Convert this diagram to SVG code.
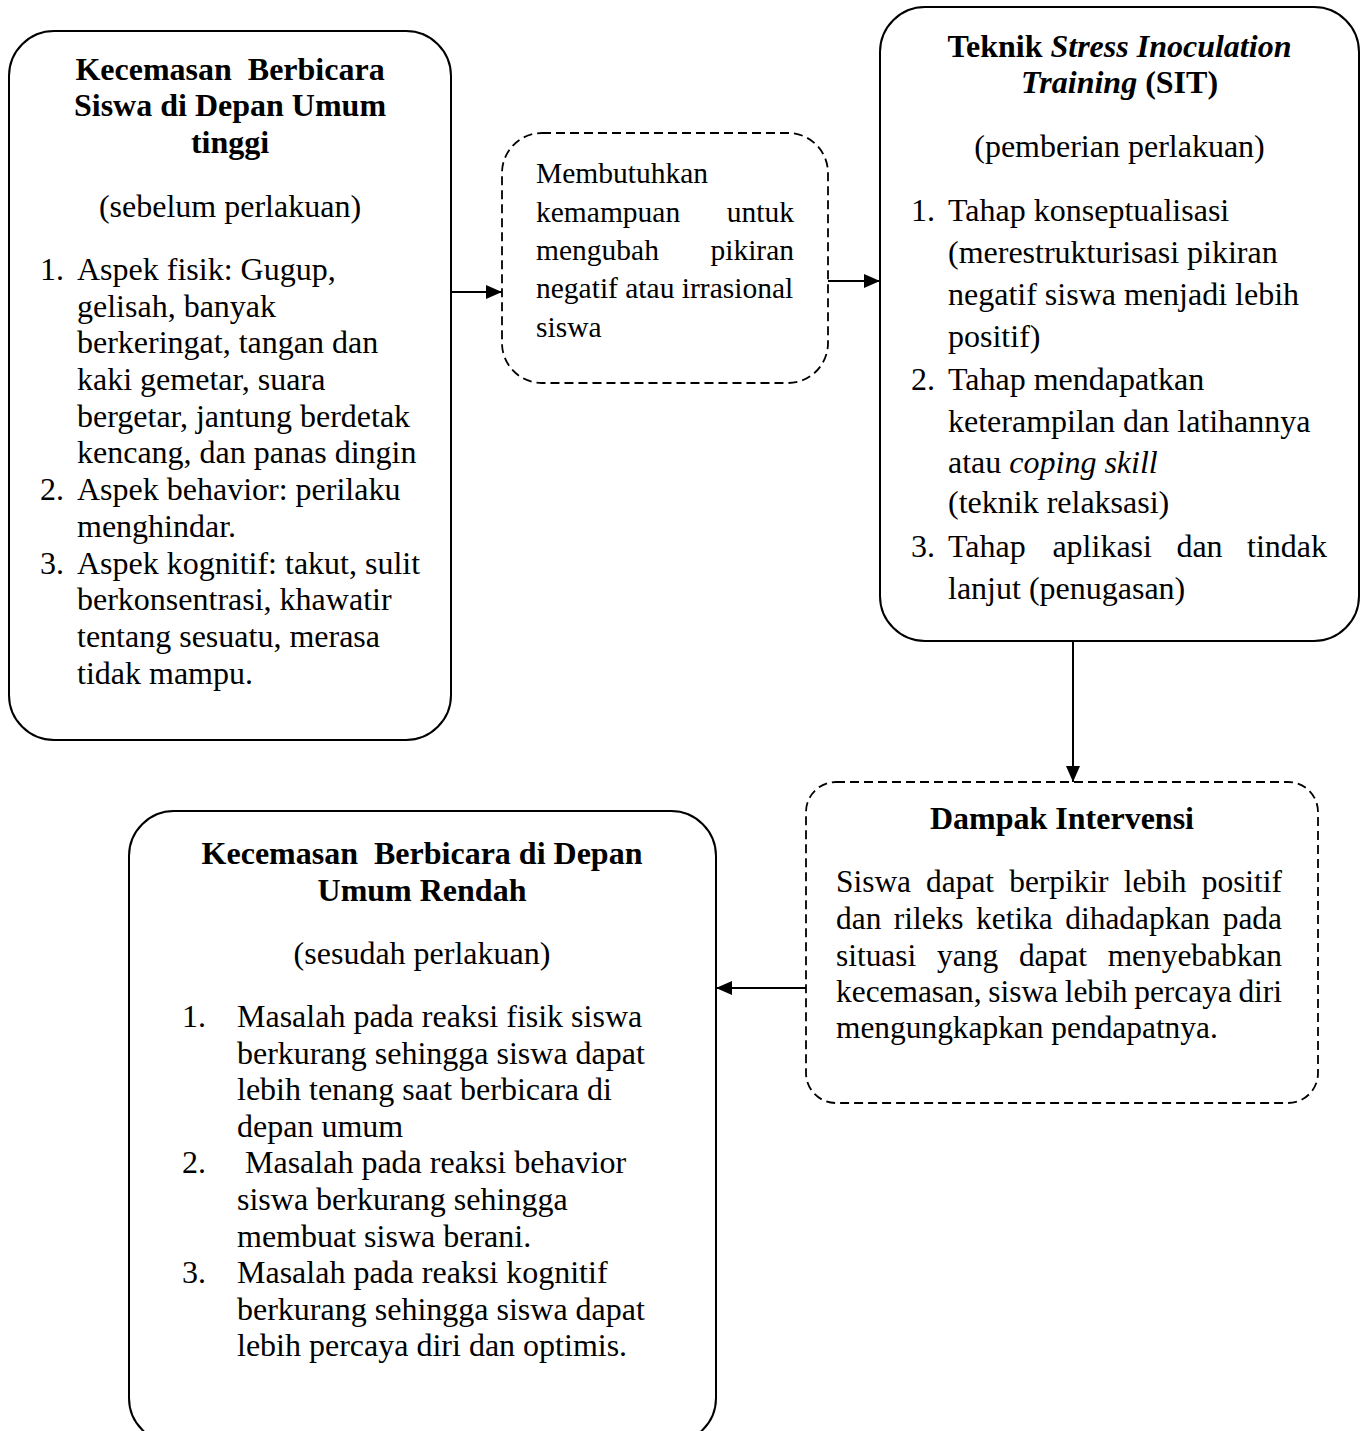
<svg xmlns="http://www.w3.org/2000/svg" width="1368" height="1431" viewBox="0 0 1368 1431">
<style>
text{font-family:"Liberation Serif","Times New Roman",serif;font-size:32px;fill:#000}
.b{font-weight:bold}
.i{font-style:italic}
.c{text-anchor:middle}
.e{text-anchor:end}
.s2{font-size:29.5px}
.s4{font-size:31.4px}
.box{fill:#fff;stroke:#000;stroke-width:2}
.dash{fill:#fff;stroke:#000;stroke-width:1.8;stroke-dasharray:9 5}
.con{fill:none;stroke:#000;stroke-width:2;marker-end:url(#arr)}
</style>
<defs>
<marker id="arr" markerUnits="userSpaceOnUse" markerWidth="16" markerHeight="14" refX="16" refY="7" orient="auto">
<path d="M0,0 L16,7 L0,14 z" fill="#000"/>
</marker>
</defs>
<rect width="1368" height="1431" fill="#fff"/>

<g id="connectors">
<path class="con" d="M451 292 H502"/>
<path class="con" d="M828 281 H880"/>
<path class="con" d="M1073 641 V782"/>
<path class="con" d="M806 988 H716"/>
</g>

<g id="node-kecemasan-tinggi">
<rect class="box" x="9" y="31" width="442" height="709" rx="45" ry="45"/>
<text class="b c" x="230" y="80" xml:space="preserve">Kecemasan  Berbicara</text>
<text class="b c" x="230" y="116">Siswa di Depan Umum</text>
<text class="b c" x="230" y="153">tinggi</text>
<text class="c" x="230" y="217">(sebelum perlakuan)</text>
<text x="40" y="280">1.</text>
<text x="77" y="280">Aspek fisik: Gugup,</text>
<text x="77" y="317">gelisah, banyak</text>
<text x="77" y="353">berkeringat, tangan dan</text>
<text x="77" y="390">kaki gemetar, suara</text>
<text x="77" y="427">bergetar, jantung berdetak</text>
<text x="77" y="463">kencang, dan panas dingin</text>
<text x="40" y="500">2.</text>
<text x="77" y="500">Aspek behavior: perilaku</text>
<text x="77" y="537">menghindar.</text>
<text x="40" y="574">3.</text>
<text x="77" y="574">Aspek kognitif: takut, sulit</text>
<text x="77" y="610">berkonsentrasi, khawatir</text>
<text x="77" y="647">tentang sesuatu, merasa</text>
<text x="77" y="684">tidak mampu.</text>
</g>

<g id="node-membutuhkan">
<rect class="dash" x="502" y="133" width="326" height="250" rx="40" ry="40"/>
<text class="s2" x="536" y="183">Membutuhkan</text>
<text class="s2" y="222"><tspan x="536">kemampuan</tspan><tspan class="e" x="794">untuk</tspan></text>
<text class="s2" y="260"><tspan x="536">mengubah</tspan><tspan class="e" x="794">pikiran</tspan></text>
<text class="s2" x="536" y="298">negatif atau irrasional</text>
<text class="s2" x="536" y="337">siswa</text>
</g>

<g id="node-sit">
<rect class="box" x="880" y="7" width="479" height="634" rx="45" ry="45"/>
<text class="b c" x="1119.5" y="57">Teknik <tspan class="i">Stress Inoculation</tspan></text>
<text class="b c" x="1119.5" y="93"><tspan class="i">Training</tspan> (SIT)</text>
<text class="c" x="1119.5" y="157">(pemberian perlakuan)</text>
<text x="911" y="221">1.</text>
<text x="948" y="221">Tahap konseptualisasi</text>
<text x="948" y="263">(merestrukturisasi pikiran</text>
<text x="948" y="305">negatif siswa menjadi lebih</text>
<text x="948" y="347">positif)</text>
<text x="911" y="390">2.</text>
<text x="948" y="390">Tahap mendapatkan</text>
<text x="948" y="432">keterampilan dan latihannya</text>
<text x="948" y="473">atau <tspan class="i">coping skill</tspan></text>
<text x="948" y="513">(teknik relaksasi)</text>
<text x="911" y="557">3.</text>
<text y="557"><tspan x="948">Tahap</tspan><tspan x="1052.4">aplikasi</tspan><tspan x="1176.4">dan</tspan><tspan class="e" x="1327">tindak</tspan></text>
<text x="948" y="599">lanjut (penugasan)</text>
</g>

<g id="node-dampak">
<rect class="dash" x="806" y="782" width="512" height="321" rx="30" ry="30"/>
<text class="b c" x="1062" y="829">Dampak Intervensi</text>
<text class="s4" y="892"><tspan x="836">Siswa</tspan><tspan x="926.1">dapat</tspan><tspan x="1009.2">berpikir</tspan><tspan x="1123.7">lebih</tspan><tspan class="e" x="1282">positif</tspan></text>
<text class="s4" y="929"><tspan x="836">dan</tspan><tspan x="893.8">rileks</tspan><tspan x="976.1">ketika</tspan><tspan x="1065.3">dihadapkan</tspan><tspan class="e" x="1282">pada</tspan></text>
<text class="s4" y="966"><tspan x="836">situasi</tspan><tspan x="937.1">yang</tspan><tspan x="1018.9">dapat</tspan><tspan class="e" x="1282">menyebabkan</tspan></text>
<text class="s4" y="1002"><tspan x="836">kecemasan,</tspan><tspan x="988.3">siswa</tspan><tspan x="1064.7">lebih</tspan><tspan x="1134.2">percaya</tspan><tspan class="e" x="1282">diri</tspan></text>
<text class="s4" x="836" y="1038">mengungkapkan pendapatnya.</text>
</g>

<g id="node-kecemasan-rendah">
<rect class="box" x="129" y="811" width="587" height="632" rx="45" ry="45"/>
<text class="b c" x="422" y="864" xml:space="preserve">Kecemasan  Berbicara di Depan</text>
<text class="b c" x="422" y="901">Umum Rendah</text>
<text class="c" x="422" y="964">(sesudah perlakuan)</text>
<text x="182" y="1027">1.</text>
<text x="237" y="1027">Masalah pada reaksi fisik siswa</text>
<text x="237" y="1064">berkurang sehingga siswa dapat</text>
<text x="237" y="1100">lebih tenang saat berbicara di</text>
<text x="237" y="1137">depan umum</text>
<text x="182" y="1173">2.</text>
<text x="245" y="1173">Masalah pada reaksi behavior</text>
<text x="237" y="1210">siswa berkurang sehingga</text>
<text x="237" y="1247">membuat siswa berani.</text>
<text x="182" y="1283">3.</text>
<text x="237" y="1283">Masalah pada reaksi kognitif</text>
<text x="237" y="1320">berkurang sehingga siswa dapat</text>
<text x="237" y="1356">lebih percaya diri dan optimis.</text>
</g>
</svg>
